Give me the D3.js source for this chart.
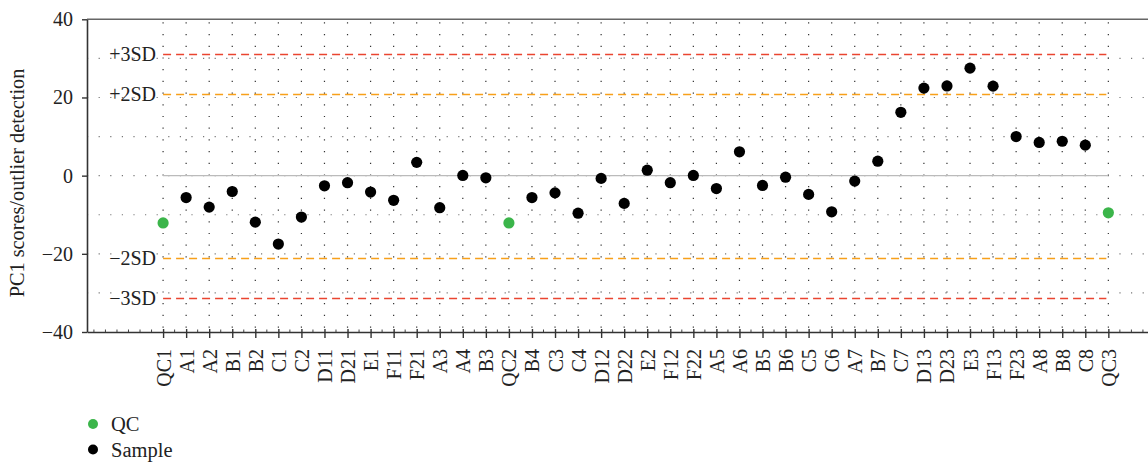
<!DOCTYPE html>
<html><head><meta charset="utf-8">
<script src="https://cdn.jsdelivr.net/npm/d3@7"></script>
<style>body{margin:0;background:#fff}svg text{font-family:"Liberation Serif","Times New Roman",serif;fill:#222}</style>
</head><body><svg id="c" width="1148" height="462"></svg>
<script>
const categories = ["QC1","A1","A2","B1","B2","C1","C2","D11","D21","E1","F11","F21","A3","A4","B3","QC2","B4","C3","C4","D12","D22","E2","F12","F22","A5","A6","B5","B6","C5","C6","A7","B7","C7","D13","D23","E3","F13","F23","A8","B8","C8","QC3"];
const scores = [-12.1,-5.6,-8.05,-4.05,-11.9,-17.5,-10.6,-2.6,-1.8,-4.2,-6.3,3.4,-8.2,0.05,-0.55,-12.1,-5.6,-4.4,-9.6,-0.7,-7.1,1.4,-1.8,0.05,-3.3,6.1,-2.5,-0.4,-4.8,-9.25,-1.4,3.7,16.2,22.4,22.95,27.5,22.9,10.0,8.5,8.8,7.8,-9.5];
const groups = categories.map(c => c.startsWith("QC") ? "QC" : "Sample");
const sdLines = [{label:"+3SD", value:31.2, kind:"3"},{label:"+2SD", value:20.8, kind:"2"},{label:"\u22122SD", value:-21.0, kind:"2"},{label:"\u22123SD", value:-31.4, kind:"3"}];
const yTicks = [40,20,0,-20,-40];
const gridValues = [30,20,10,0,-10,-20,-30];
const legendItems = ["QC","Sample"];

const colors = {QC:"#3bb54a", Sample:"#000"};
const sdColors = {"3":"#ea4530","2":"#f8a01a"};
const svg = d3.select("#c");
const L = 87, R = 1148, T = 19.3, B = 332;
const x = d3.scaleLinear().domain([-3.3, 42.72]).range([L, R]);
const y = d3.scaleLinear().domain([-40, 40]).range([B, T]);
const idx = d3.range(categories.length);

// horizontal dotted grid
svg.append("g").selectAll("line").data(gridValues).join("line")
  .attr("x1", L).attr("x2", R).attr("y1", d => y(d)).attr("y2", d => y(d))
  .attr("stroke", "#777").attr("stroke-width", 1.2).attr("stroke-dasharray", "1.2,10.4");
// vertical dotted grid
svg.append("g").selectAll("line").data(idx).join("line")
  .attr("x1", i => x(i)).attr("x2", i => x(i)).attr("y1", T + 3).attr("y2", B)
  .attr("stroke", "#333").attr("stroke-width", 1.2).attr("stroke-dasharray", "1.2,10.5");

// zero line
svg.append("line").attr("x1", x(0)).attr("x2", x(categories.length - 1))
  .attr("y1", y(0)).attr("y2", y(0)).attr("stroke", "#bbb").attr("stroke-width", 1.3);

// SD lines
const sd = svg.append("g");
sd.selectAll("line").data(sdLines).join("line")
  .attr("x1", x(0)).attr("x2", x(categories.length - 1) - 2)
  .attr("y1", d => Math.round(y(d.value)) + 0.5).attr("y2", d => Math.round(y(d.value)) + 0.5)
  .attr("stroke", d => sdColors[d.kind]).attr("stroke-width", 1.4).attr("stroke-dasharray", "8,5");
sd.selectAll("text").data(sdLines).join("text")
  .attr("x", x(0) - 7).attr("y", d => y(d.value)).attr("dy", "0.35em")
  .attr("text-anchor", "end").attr("font-size", 20).text(d => d.label);

// top border
svg.append("line").attr("x1", L).attr("x2", R).attr("y1", T).attr("y2", T).attr("stroke", "#666").attr("stroke-width", 1.6);

// y axis
const yAxis = svg.append("g").attr("transform", `translate(${L},0)`)
  .call(d3.axisLeft(y).tickValues(yTicks).tickSize(5).tickSizeOuter(0).tickFormat(d => d < 0 ? "\u2212" + Math.abs(d) : d));
yAxis.select(".domain").attr("stroke", "#333").attr("stroke-width", 1.6);
yAxis.selectAll(".tick line").attr("stroke", "#333").attr("stroke-width", 1.4);
yAxis.selectAll(".tick text").attr("font-size", 20).attr("font-family", "Liberation Serif, serif").attr("fill", "#222").attr("x", -14);

// x axis minor ticks
const minor = d3.range(-3, 43, 0.5).filter(v => !(Number.isInteger(v) && v >= 0 && v < categories.length));
svg.append("g").selectAll("line").data(minor).join("line")
  .attr("x1", d => x(d)).attr("x2", d => x(d)).attr("y1", B).attr("y2", B - 2.5)
  .attr("stroke", "#444").attr("stroke-width", 1);
// x axis
const xAxis = svg.append("g").attr("transform", `translate(0,${B})`)
  .call(d3.axisBottom(x).tickValues(idx).tickSize(6).tickSizeOuter(0).tickFormat(i => categories[i]));
xAxis.select(".domain").attr("stroke", "#333").attr("stroke-width", 1.6);
xAxis.selectAll(".tick line").attr("stroke", "#333").attr("stroke-width", 1.4).attr("y1", -3);
xAxis.selectAll(".tick text").attr("font-size", 20).attr("font-family", "Liberation Serif, serif").attr("fill", "#222")
  .attr("transform", "rotate(-90)").attr("text-anchor", "end").attr("x", -17).attr("y", 0).attr("dy", "0.35em");

// points
svg.append("g").selectAll("circle").data(idx).join("circle")
  .attr("cx", i => x(i)).attr("cy", i => y(scores[i])).attr("r", 5.6)
  .attr("fill", i => colors[groups[i]]);

// y title
svg.append("text").attr("transform", "translate(24,183) rotate(-90)").attr("text-anchor", "middle")
  .attr("font-size", 20.3).text("PC1 scores/outlier detection");

// legend
const lg = svg.append("g");
lg.selectAll("circle").data(legendItems).join("circle")
  .attr("cx", 93).attr("cy", (d, i) => 424 + i * 25.5).attr("r", 5).attr("fill", d => colors[d]);
lg.selectAll("text").data(legendItems).join("text")
  .attr("x", 111).attr("y", (d, i) => 424 + i * 25.5).attr("dy", "0.35em").attr("font-size", 20.5).text(d => d);
</script></body></html>
